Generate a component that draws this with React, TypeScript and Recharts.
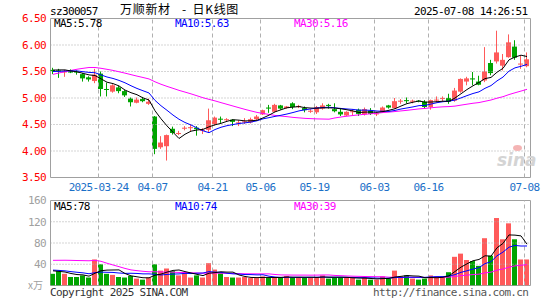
import React from 'react';
import { ComposedChart, Bar, Line, XAxis, YAxis, ReferenceLine, ReferenceArea } from 'recharts';

// ---------- data ----------
const dates = [
  '03-12', '03-13', '03-14', '03-17', '03-18', '03-19', '03-20', '03-21', '03-24', '03-25',
  '03-26', '03-27', '03-28', '03-31', '04-01', '04-02', '04-03', '04-07', '04-08', '04-09',
  '04-10', '04-11', '04-14', '04-15', '04-16', '04-17', '04-18', '04-21', '04-22', '04-23',
  '04-24', '04-25', '04-28', '04-29', '04-30', '05-06', '05-07', '05-08', '05-09', '05-12',
  '05-13', '05-14', '05-15', '05-16', '05-19', '05-20', '05-21', '05-22', '05-23', '05-26',
  '05-27', '05-28', '05-29', '05-30', '06-03', '06-04', '06-05', '06-06', '06-09', '06-10',
  '06-11', '06-12', '06-13', '06-16', '06-17', '06-18', '06-19', '06-20', '06-23', '06-24',
  '06-25', '06-26', '06-27', '06-30', '07-01', '07-02', '07-03', '07-04', '07-07', '07-08',
];

const opens = [
  5.53, 5.52, 5.49, 5.52, 5.50, 5.45, 5.39, 5.32, 5.46, 5.17,
  5.12, 5.20, 5.13, 4.99, 4.91, 4.98, 4.89, 4.65, 4.07, 4.09,
  4.42, 4.32, 4.42, 4.43, 4.44, 4.38, 4.40, 4.51, 4.61, 4.58,
  4.59, 4.52, 4.54, 4.54, 4.60, 4.69, 4.82, 4.74, 4.86, 4.81,
  4.90, 4.83, 4.81, 4.74, 4.73, 4.80, 4.87, 4.79, 4.74, 4.67,
  4.74, 4.78, 4.69, 4.76, 4.69, 4.74, 4.86, 4.81, 4.93, 4.96,
  4.93, 4.95, 4.93, 4.83, 4.95, 4.98, 5.00, 4.95, 5.12, 5.31,
  5.37, 5.31, 5.33, 5.66, 5.69, 5.61, 5.77, 5.97, 5.63, 5.60,
];
const highs = [
  5.57, 5.55, 5.53, 5.54, 5.52, 5.47, 5.41, 5.55, 5.50, 5.29,
  5.26, 5.23, 5.15, 5.01, 5.01, 5.02, 4.99, 4.66, 4.28, 4.31,
  4.46, 4.38, 4.47, 4.50, 4.47, 4.43, 4.80, 4.65, 4.65, 4.62,
  4.60, 4.58, 4.62, 4.63, 4.68, 4.78, 4.87, 4.89, 4.87, 4.85,
  4.92, 4.87, 4.84, 4.79, 4.85, 4.90, 4.89, 4.90, 4.81, 4.75,
  4.79, 4.80, 4.82, 4.81, 4.74, 4.84, 4.87, 5.00, 4.98, 5.01,
  4.97, 4.96, 4.96, 4.97, 5.03, 5.03, 5.08, 5.19, 5.37, 5.40,
  5.49, 5.42, 5.96, 5.72, 6.27, 5.83, 6.20, 6.09, 5.80, 5.86,
];
const lows = [
  5.45, 5.38, 5.40, 5.47, 5.44, 5.31, 5.31, 5.28, 5.03, 5.03,
  5.10, 5.09, 5.02, 4.84, 4.90, 4.92, 4.87, 3.94, 4.04, 3.82,
  4.31, 4.30, 4.39, 4.37, 4.29, 4.32, 4.36, 4.48, 4.53, 4.56,
  4.47, 4.47, 4.51, 4.52, 4.58, 4.68, 4.72, 4.73, 4.78, 4.80,
  4.79, 4.81, 4.73, 4.72, 4.70, 4.78, 4.80, 4.73, 4.66, 4.66,
  4.67, 4.66, 4.67, 4.68, 4.66, 4.73, 4.80, 4.80, 4.89, 4.90,
  4.90, 4.92, 4.80, 4.78, 4.92, 4.94, 4.89, 4.93, 5.10, 5.24,
  5.24, 5.24, 5.30, 5.43, 5.65, 5.52, 5.76, 5.72, 5.55, 5.58,
];
const closes = [
  5.51, 5.50, 5.50, 5.48, 5.48, 5.37, 5.35, 5.44, 5.17, 5.16,
  5.24, 5.13, 5.05, 4.92, 4.97, 4.94, 4.93, 4.04, 4.16, 4.30,
  4.34, 4.34, 4.44, 4.45, 4.41, 4.40, 4.58, 4.63, 4.59, 4.60,
  4.55, 4.54, 4.56, 4.60, 4.65, 4.77, 4.80, 4.87, 4.80, 4.84,
  4.83, 4.85, 4.77, 4.76, 4.83, 4.86, 4.85, 4.75, 4.69, 4.74,
  4.75, 4.70, 4.79, 4.70, 4.71, 4.82, 4.82, 4.94, 4.95, 4.94,
  4.95, 4.94, 4.83, 4.96, 4.97, 5.00, 4.93, 5.14, 5.36, 5.37,
  5.35, 5.25, 5.50, 5.47, 5.86, 5.72, 6.05, 5.76, 5.65, 5.73,
];
// volume, 万手
const volumes = [
  22, 27, 22, 16, 16, 19, 15, 49, 40, 22,
  20, 16, 15, 18, 13, 11, 15, 40, 28, 32,
  27, 19, 25, 15, 19, 15, 42, 30, 23, 16,
  15, 15, 16, 14, 14, 17, 15, 15, 15, 18,
  15, 15, 15, 15, 16, 19, 13, 15, 15, 15,
  14, 11, 15, 11, 11, 17, 13, 28, 17, 19,
  13, 11, 13, 19, 17, 17, 25, 54, 60, 48,
  46, 37, 89, 56, 127, 87, 117, 87, 49, 49,
];
// sessions before the visible window (needed by the moving averages)
const priorCloses = [
  4.70, 4.75, 4.78, 4.82, 4.86, 4.87, 5.44, 5.62, 5.75, 5.85,
  5.90, 5.82, 5.78, 5.80, 5.72, 5.75, 5.66, 5.55, 5.50, 5.45,
  5.48, 5.42, 5.45, 5.50, 5.52, 5.48, 5.50, 5.58, 5.56,
];
const priorVolumes = [
  24, 20, 22, 26, 25, 23, 24, 95, 130, 120,
  110, 115, 101, 55, 48, 42, 39, 40, 37, 35,
  33, 30, 31, 28, 30, 32, 28, 30, 26,
];

const priceTicks = [3.5, 4, 4.5, 5, 5.5, 6, 6.5];
const volumeTicks = [0, 40, 80, 120, 160];
const tickDates = ['03-24', '04-07', '04-21', '05-06', '05-19', '06-03', '06-16', '07-08'];
const tickLabels = ['2025-03-24', '04-07', '04-21', '05-06', '05-19', '06-03', '06-16', '07-08'];

// ---------- styling ----------
const UP = '#ff5a5a';
const DOWN = '#00a400';
const C_MA5 = '#000000';
const C_MA10 = '#0000ff';
const C_MA30 = '#ff00ff';
const MONO = '"DejaVu Sans Mono", monospace';
const CJK = '"Noto Sans CJK SC", sans-serif';
const FS = 11;
const LS = -0.65;

const D0 = -5 / 12;
const D1 = 80 - 5 / 12;
const SLOT_SHIFT = -5 / 12;

function movingAverage(prior: number[], values: number[], n: number): number[] {
  const all = [...prior, ...values];
  return values.map((_, i) => {
    const end = prior.length + i;
    let s = 0;
    for (let k = end - n + 1; k <= end; k++) s += all[k];
    return s / n;
  });
}

const ma5 = movingAverage(priorCloses, closes, 5);
const ma10 = movingAverage(priorCloses, closes, 10);
const ma30 = movingAverage(priorCloses, closes, 30);
const vma5 = movingAverage(priorVolumes, volumes, 5);
const vma10 = movingAverage(priorVolumes, volumes, 10);
const vma30 = movingAverage(priorVolumes, volumes, 30);

const rows = dates.map((d, i) => ({
  idx: i,
  date: d,
  o: opens[i],
  h: highs[i],
  l: lows[i],
  c: closes[i],
  range: [lows[i], highs[i]],
  vol: volumes[i],
  ma5: ma5[i],
  ma10: ma10[i],
  ma30: ma30[i],
  vma5: vma5[i],
  vma10: vma10[i],
  vma30: vma30[i],
}));

const dateTickValues = tickDates.map((d) => dates.indexOf(d) + SLOT_SHIFT);
const labelForTick = (v: number) => {
  const k = dateTickValues.findIndex((t) => Math.abs(t - v) < 1e-6);
  return k >= 0 ? tickLabels[k] : '';
};

const last = rows.length - 1;

// ---------- shapes ----------
const Candle = (props: any) => {
  const { x, y, width, height, payload } = props;
  if (x == null || payload == null) return null;
  const { o, h, l, c } = payload;
  const color = c >= o ? UP : DOWN;
  const left = Math.floor(x + width / 2 - 2.5);
  const unit = height / (h - l);
  const yOf = (v: number) => y + (h - v) * unit;
  const top = Math.min(yOf(o), yOf(c));
  const bot = Math.max(yOf(o), yOf(c));
  const bodyH = Math.max(1, bot - top);
  return (
    <g>
      <rect x={left + 2} y={y} width={1} height={Math.max(1, height)} fill={color} />
      <rect x={left} y={top} width={5} height={bodyH} fill={color} />
    </g>
  );
};

const VolBar = (props: any) => {
  const { x, y, width, height, payload } = props;
  if (x == null || payload == null) return null;
  const color = payload.c >= payload.o ? UP : DOWN;
  const left = Math.floor(x + width / 2 - 2.5);
  return <rect x={left} y={y} width={5} height={height} fill={color} />;
};

const DateTick = (props: any) => {
  const { x, y, payload } = props;
  return (
    <text x={x} y={y} dy="0.36em" textAnchor="middle" fill="#1a6fc7" fontFamily={MONO} fontSize={FS} letterSpacing={LS}>
      {labelForTick(payload.value)}
    </text>
  );
};

const PriceTick = (props: any) => {
  const { x, y, payload } = props;
  return (
    <text x={x} y={y} dy="0.36em" textAnchor="end" fill="#ff0000" fontFamily={MONO} fontSize={FS} letterSpacing={LS}>
      {Number(payload.value).toFixed(2)}
    </text>
  );
};

const VolTick = (props: any) => {
  const { x, y, payload } = props;
  const v = Number(payload.value);
  return (
    <text x={v === 0 ? x - 3 : x} y={y} dy="0.36em" textAnchor="end" fill="#a0a0a0" fontFamily={v === 0 ? CJK : MONO} fontSize={v === 0 ? 10 : FS} letterSpacing={v === 0 ? 0 : LS}>
      {v === 0 ? 'x万' : String(v)}
    </text>
  );
};

const Txt = ({ left, cy, color, children, font = MONO, size = FS, ls = LS }: any) => (
  <div
    style={{
      position: 'absolute',
      left,
      top: cy - 5.3,
      color,
      fontFamily: font,
      fontSize: size,
      lineHeight: `${size}px`,
      letterSpacing: ls,
      whiteSpace: 'pre',
    }}
  >
    {children}
  </div>
);

const Cjk = ({ left, children }: any) => (
  <div style={{ position: 'absolute', left, top: 3, fontFamily: CJK, fontSize: 12, lineHeight: '12px', letterSpacing: 0.7, whiteSpace: 'pre', color: '#000' }}>
    {children}
  </div>
);

export default function App() {
  return (
    <div style={{ position: 'absolute', left: 0, top: 0, width: 545, height: 300, background: '#fff', overflow: 'hidden' }}>
      {/* price panel */}
      <div style={{ position: 'absolute', left: 0, top: 0 }}>
        <ComposedChart width={545} height={200} data={rows} margin={{ top: 18.5, right: 14.5, bottom: 0, left: 0.5 }}>
          <XAxis
            dataKey="idx"
            type="number"
            domain={[D0, D1]}
            ticks={dateTickValues}
            tick={<DateTick />}
            tickLine={false}
            axisLine={false}
            tickSize={0}
            tickMargin={9.5}
            height={22.5}
            interval={0}
            allowDataOverflow
          />
          <YAxis
            type="number"
            domain={[3.5, 6.5]}
            ticks={priceTicks}
            tick={<PriceTick />}
            tickLine={false}
            axisLine={false}
            tickSize={0}
            tickMargin={4.5}
            width={50}
            interval={0}
            allowDataOverflow
          />
          {priceTicks.slice(1, -1).map((v) => (
            <ReferenceLine key={'h' + v} y={v} stroke="#aaaaaa" strokeDasharray="1 2" />
          ))}
          {dateTickValues.map((v) => (
            <ReferenceLine key={'v' + v} x={v} stroke="#b0b0b0" strokeDasharray="4 3" />
          ))}
          <ReferenceArea x1={D0} x2={D1} y1={3.5} y2={6.5} fill="none" fillOpacity={0} stroke="#a0a0a0" strokeWidth={1} />
          <Bar dataKey="range" barSize={5} shape={<Candle />} isAnimationActive={false} />
          <Line dataKey="ma30" type="linear" stroke={C_MA30} strokeWidth={1} dot={false} activeDot={false} isAnimationActive={false} />
          <Line dataKey="ma10" type="linear" stroke={C_MA10} strokeWidth={1} dot={false} activeDot={false} isAnimationActive={false} />
          <Line dataKey="ma5" type="linear" stroke={C_MA5} strokeWidth={1} dot={false} activeDot={false} isAnimationActive={false} />
        </ComposedChart>
      </div>

      {/* volume panel */}
      <div style={{ position: 'absolute', left: 0, top: 0 }}>
        <ComposedChart width={545} height={300} data={rows} margin={{ top: 200.5, right: 14.5, bottom: 14.5, left: 0.5 }}>
          <XAxis dataKey="idx" type="number" domain={[D0, D1]} ticks={dateTickValues} hide allowDataOverflow />
          <YAxis
            type="number"
            domain={[0, 160]}
            ticks={volumeTicks}
            tick={<VolTick />}
            tickLine={false}
            axisLine={false}
            tickSize={0}
            tickMargin={4.5}
            width={50}
            interval={0}
            allowDataOverflow
          />
          {volumeTicks.slice(1, -1).map((v) => (
            <ReferenceLine key={'vh' + v} y={v} stroke="#aaaaaa" strokeDasharray="1 2" />
          ))}
          {dateTickValues.map((v) => (
            <ReferenceLine key={'vv' + v} x={v} stroke="#b0b0b0" strokeDasharray="4 3" />
          ))}
          <ReferenceArea x1={D0} x2={D1} y1={0} y2={160} fill="none" fillOpacity={0} stroke="#a0a0a0" strokeWidth={1} />
          <Bar dataKey="vol" barSize={5} shape={<VolBar />} isAnimationActive={false} />
          <Line dataKey="vma30" type="linear" stroke={C_MA30} strokeWidth={1} dot={false} activeDot={false} isAnimationActive={false} />
          <Line dataKey="vma10" type="linear" stroke={C_MA10} strokeWidth={1} dot={false} activeDot={false} isAnimationActive={false} />
          <Line dataKey="vma5" type="linear" stroke={C_MA5} strokeWidth={1} dot={false} activeDot={false} isAnimationActive={false} />
        </ComposedChart>
      </div>

      {/* header */}
      <Txt left={50} cy={11} color="#000">sz300057</Txt>
      <Cjk left={120}>万顺新材</Cjk>
      <Cjk left={182}>-</Cjk>
      <Cjk left={192.5}>日K线图</Cjk>
      <Txt left={414} cy={11} color="#000">2025-07-08 14:26:51</Txt>

      {/* price MA legend */}
      <Txt left={54} cy={23.5} color={C_MA5}>{`MA5:${ma5[last].toFixed(2)}`}</Txt>
      <Txt left={175} cy={23.5} color={C_MA10}>{`MA10:${ma10[last].toFixed(2)}`}</Txt>
      <Txt left={294} cy={23.5} color={C_MA30}>{`MA30:${ma30[last].toFixed(2)}`}</Txt>

      {/* volume MA legend */}
      <Txt left={54} cy={206.7} color={C_MA5}>{`MA5:${Math.round(vma5[last])}`}</Txt>
      <Txt left={175} cy={206.7} color={C_MA10}>{`MA10:${Math.round(vma10[last])}`}</Txt>
      <Txt left={294} cy={206.7} color={C_MA30}>{`MA30:${Math.round(vma30[last])}`}</Txt>

      {/* watermark */}
      <div style={{ position: 'absolute', left: 497, top: 150, fontFamily: '"DejaVu Sans", sans-serif', fontSize: 17, fontWeight: 'bold', fontStyle: 'italic', color: '#d4d4d4', lineHeight: '20px' }}>
        sina
      </div>
      <div style={{ position: 'absolute', left: 513, top: 145, width: 9, height: 6, borderRadius: '50%', background: '#f4b4b4' }} />

      {/* footer */}
      <Txt left={50} cy={292.5} color="#333">Copyright 2025 SINA.COM</Txt>
      <Txt left={373} cy={292.5} color="#555">http://finance.sina.com.cn</Txt>
    </div>
  );
}
